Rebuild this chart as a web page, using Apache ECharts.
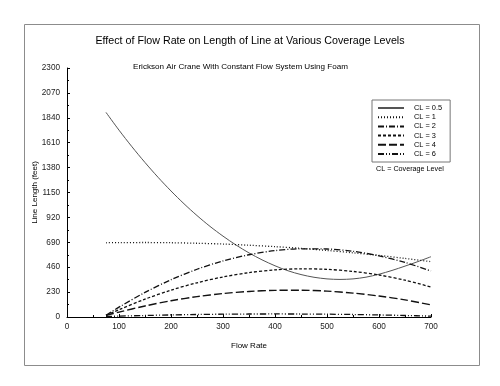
<!DOCTYPE html>
<html>
<head>
<meta charset="utf-8">
<script src="https://cdn.jsdelivr.net/npm/echarts@6/dist/echarts.min.js"></script>
<style>
html,body{margin:0;padding:0;background:#fff;}
#chart{width:500px;height:386px;}
</style>
</head>
<body>
<div id="chart"></div>
<script>
// ---- data ----
const titleText = "Effect of Flow Rate on Length of Line at Various Coverage Levels";
const subtitleText = "Erickson Air Crane With Constant Flow System Using Foam";
const legendNote = "CL = Coverage Level";
const xAxisName = "Flow Rate";
const yAxisName = "Line Length (feet)";
const seriesNames = ["CL = 0.5", "CL = 1", "CL = 2", "CL = 3", "CL = 4", "CL = 6"];

const flowFine = [75,100,125,150,175,200,225,250,275,300,325,350,375,400,425,450,475,500,525,550,575,600,625,650,675,700];
const cl05 = [1890,1726,1572,1427,1291,1164,1046,937,837,747,665,592,528,473,427,392,367,352,347,352,368,395,430,470,512,557];

const flowCoarse = [75,100,150,200,250,300,350,400,450,500,550,600,650,700];
const cl1 = [686,687,688,686,681,674,663,650,634,615,593,569,541,511];
const cl2 = [15,91,227,344,441,518,575,613,630,628,607,565,504,425];
const cl3 = [15,67,165,248,316,370,410,435,445,440,421,388,340,277];
const cl4 = [15,45,102,150,188,217,236,246,247,239,221,194,158,112];
const cl6 = [5,8,14,19,23,26,27.5,28,27.5,26,23,19,14,8];

const yTicks = {min: 0, max: 2300, interval: 230};
const xTicks = {min: 0, max: 700, interval: 100};

// ---- styles ----
const FONT = "Liberation Sans, Arial, Helvetica, sans-serif";
const styles = [
  {color: '#555', width: 1, type: 'solid'},
  {color: '#111', width: 1.3, type: [1, 2]},
  {color: '#111', width: 1.3, type: [6, 2, 1, 2]},
  {color: '#111', width: 1.3, type: [3, 2]},
  {color: '#111', width: 1.4, type: [8, 3]},
  {color: '#111', width: 1.3, type: [6, 2, 1, 2, 1, 2]}
];
const seriesData = [
  [flowFine, cl05], [flowCoarse, cl1], [flowCoarse, cl2],
  [flowCoarse, cl3], [flowCoarse, cl4], [flowCoarse, cl6]
];

const series = seriesNames.map((name, i) => ({
  name: name,
  type: 'line',
  smooth: 0.3,
  symbol: 'none',
  showSymbol: false,
  data: seriesData[i][0].map((x, j) => [x, seriesData[i][1][j]]),
  lineStyle: {color: styles[i].color, width: styles[i].width, type: styles[i].type},
  itemStyle: {color: styles[i].color},
  emphasis: {disabled: true},
  z: 3 + i
}));

const chart = echarts.init(document.getElementById('chart'), null, {renderer: 'canvas'});
chart.setOption({
  animation: false,
  backgroundColor: '#fff',
  textStyle: {fontFamily: FONT},
  graphic: [{
    type: 'rect', left: 22, top: 22, z: -10,
    shape: {width: 455, height: 341},
    style: {fill: 'none', stroke: '#8c8c8c', lineWidth: 1}
  }],
  title: [
    {text: titleText, left: 'center', top: 36, padding: 0,
     textStyle: {fontSize: 10.7, fontWeight: 'normal', color: '#000', fontFamily: FONT}},
    {text: subtitleText, left: 133, top: 63, padding: 0,
     textStyle: {fontSize: 8.1, fontWeight: 'normal', color: '#000', fontFamily: FONT}},
    {text: legendNote, left: 376, top: 166, padding: 0,
     textStyle: {fontSize: 7.2, fontWeight: 'normal', color: '#000', fontFamily: FONT}}
  ],
  legend: {
    orient: 'vertical', left: 372, top: 100,
    padding: [4, 8, 4, 5],
    itemWidth: 26, itemHeight: 8, itemGap: 1.2,
    borderColor: '#777', borderWidth: 1,
    selectedMode: false,
    itemStyle: {color: 'rgba(0,0,0,0)', borderColor: 'rgba(0,0,0,0)', borderWidth: 0, opacity: 0},
    textStyle: {fontSize: 7.4, color: '#000', fontFamily: FONT, lineHeight: 8, padding: [0, 0, 0, 5]},
    data: seriesNames
  },
  grid: {left: 67, right: 69, top: 68, bottom: 69, containLabel: false},
  xAxis: {
    type: 'value', min: xTicks.min, max: xTicks.max, interval: xTicks.interval,
    name: xAxisName, nameLocation: 'middle', nameGap: 25, nameMoveOverlap: false,
    nameTextStyle: {fontSize: 8, color: '#000', fontFamily: FONT},
    axisLine: {show: true, onZero: false, lineStyle: {color: '#000', width: 1}},
    axisTick: {show: true, inside: true, length: 3, lineStyle: {color: '#000'}},
    minorTick: {show: true, splitNumber: 2, length: 2, lineStyle: {color: '#000'}},
    axisLabel: {fontSize: 8.2, color: '#222', margin: 6, fontFamily: FONT, formatter: v => String(v)},
    splitLine: {show: false}
  },
  yAxis: {
    type: 'value', min: yTicks.min, max: yTicks.max, interval: yTicks.interval,
    name: yAxisName, nameLocation: 'middle', nameGap: 28, nameRotate: 90, nameMoveOverlap: false,
    nameTextStyle: {fontSize: 8, color: '#000', fontFamily: FONT},
    axisLine: {show: true, lineStyle: {color: '#000', width: 1}},
    axisTick: {show: true, inside: true, length: 3, lineStyle: {color: '#000'}},
    minorTick: {show: true, splitNumber: 2, length: 2, lineStyle: {color: '#000'}},
    axisLabel: {fontSize: 8.2, color: '#222', margin: 7, fontFamily: FONT, formatter: v => String(v)},
    splitLine: {show: false}
  },
  series: series
});
</script>
</body>
</html>
